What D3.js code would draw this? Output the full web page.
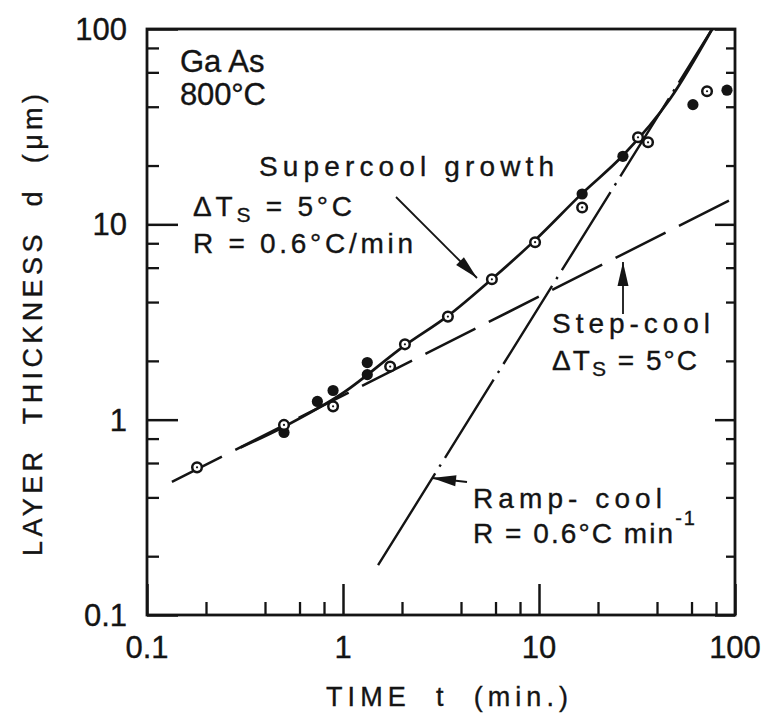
<!DOCTYPE html>
<html><head><meta charset="utf-8">
<script src="https://cdnjs.cloudflare.com/ajax/libs/d3/7.8.5/d3.min.js"></script>
<style>
body{margin:0;background:#fff}
svg{display:block}
text{font-family:"Liberation Sans",Arial,sans-serif;fill:#141414;stroke:#141414;stroke-width:0.35;white-space:pre}
</style>
</head><body>
<svg id="c" width="765" height="714"></svg>
<script>
// ---------- data ----------
const majorTicks = [0.1, 1, 10, 100];
const minorTicks = [0.2, 0.4, 0.6, 0.8, 2, 4, 6, 8, 20, 40, 60, 80];
const xTickLabels = ["0.1", "1", "10", "100"];
const yTickLabels = ["0.1", "1", "10", "100"];

// measured points (open circles)
const openTime  = [0.18, 0.50, 0.89, 1.74, 2.07, 3.43, 5.75, 9.55, 16.6, 32, 36, 72];
const openThick = [0.57, 0.94, 1.17, 1.87, 2.43, 3.37, 5.23, 8.1, 12.2, 27.9, 26.3, 48];
// measured points (filled circles)
const filledTime  = [0.50, 0.74, 0.89, 1.33, 1.33, 16.6, 26.8, 61, 91];
const filledThick = [0.86, 1.24, 1.41, 1.96, 1.70, 14.3, 22.3, 41, 48.6];

// supercool growth curve (solid)
const supercoolTime  = [0.30, 0.50, 1.0, 2.07, 3.43, 5.75, 9.55, 16.6, 26.8, 46.6, 76.5];
const supercoolThick = [0.72, 0.92, 1.37, 2.40, 3.40, 5.25, 8.3, 14.4, 22.5, 43.8, 100];
// step-cool line (dashed)
const stepTime  = [0.134, 100];
const stepThick = [0.48, 13.7];
// ramp-cool line (dash-dot)
const rampTime  = [1.51, 76.5];
const rampThick = [0.18, 100];

// ---------- layout ----------
const svg = d3.select("#c");
const L = 147, R = 735, T = 29, B = 615;
const x = d3.scaleLog().domain([0.1, 100]).range([L, R]);
const y = d3.scaleLog().domain([0.1, 100]).range([B, T]);
const ink = "#141414";

// frame
svg.append("rect").attr("x", L).attr("y", T).attr("width", R - L).attr("height", B - T)
  .attr("fill", "none").attr("stroke", ink).attr("stroke-width", 2.8);

function styleAxis(g, w) {
  g.select(".domain").remove();
  g.selectAll("line").attr("stroke", ink).attr("stroke-width", w);
  g.selectAll("text").remove();
}
// bottom
svg.append("g").attr("transform", `translate(0,${B})`)
  .call(d3.axisBottom(x).tickValues(majorTicks).tickSize(-31)).call(g => styleAxis(g, 2.5));
svg.append("g").attr("transform", `translate(0,${B})`)
  .call(d3.axisBottom(x).tickValues(minorTicks).tickSize(-13)).call(g => styleAxis(g, 2.3));
// left
svg.append("g").attr("transform", `translate(${L},0)`)
  .call(d3.axisLeft(y).tickValues(majorTicks).tickSize(-31)).call(g => styleAxis(g, 2.5));
svg.append("g").attr("transform", `translate(${L},0)`)
  .call(d3.axisLeft(y).tickValues(minorTicks).tickSize(-12)).call(g => styleAxis(g, 2.3));
// right
svg.append("g").attr("transform", `translate(${R},0)`)
  .call(d3.axisRight(y).tickValues(majorTicks).tickSize(-20)).call(g => styleAxis(g, 2.5));
svg.append("g").attr("transform", `translate(${R},0)`)
  .call(d3.axisRight(y).tickValues(minorTicks).tickSize(-9)).call(g => styleAxis(g, 2.3));

// tick labels
svg.append("g").selectAll("text").data(majorTicks).join("text")
  .attr("x", d => x(d)).attr("y", 658).attr("text-anchor", "middle")
  .attr("font-size", 31).text((d, i) => xTickLabels[i]);
svg.append("g").selectAll("text").data(majorTicks).join("text")
  .attr("x", 127).attr("y", d => y(d)).attr("dy", "0.36em").attr("text-anchor", "end")
  .attr("font-size", 31).text((d, i) => yTickLabels[i]);

function fit(sel, target) {
  const n = sel.text().length;
  const w = sel.node().getComputedTextLength();
  sel.attr("letter-spacing", (target - w) / (n - 1));
  return sel;
}

// axis titles
fit(svg.append("text").attr("x", 326).attr("y", 706).attr("font-size", 27).text("TIME  t  (min.)"), 242);
fit(svg.append("text").attr("transform", "translate(42,556) rotate(-90)").attr("font-size", 27)
  .text("LAYER  THICKNESS  d  (μm)"), 462);

// ---------- curves ----------
const line = d3.line().x(d => x(d[0])).y(d => y(d[1]));
svg.append("path").datum(stepTime.map((t, i) => [t, stepThick[i]])).attr("d", line)
  .attr("fill", "none").attr("stroke", ink).attr("stroke-width", 2.5).attr("stroke-dasharray", "56,15");
svg.append("path").datum(rampTime.map((t, i) => [t, rampThick[i]])).attr("d", line)
  .attr("fill", "none").attr("stroke", ink).attr("stroke-width", 2.4)
  .attr("stroke-dasharray", "108,8,2.5,8,92,8,2.5,8,92,8,2.5,8,92,8,2.5,8,92,8,2.5,8,300");
svg.append("path").datum(supercoolTime.map((t, i) => [t, supercoolThick[i]]))
  .attr("d", line.curve(d3.curveMonotoneX))
  .attr("fill", "none").attr("stroke", ink).attr("stroke-width", 2.7);

// ---------- points ----------
svg.append("g").selectAll("circle").data(filledTime.map((t, i) => [t, filledThick[i]])).join("circle")
  .attr("cx", d => x(d[0])).attr("cy", d => y(d[1])).attr("r", 5.6).attr("fill", ink);
const og = svg.append("g").selectAll("g").data(openTime.map((t, i) => [t, openThick[i]])).join("g");
og.append("circle").attr("cx", d => x(d[0])).attr("cy", d => y(d[1])).attr("r", 4.8)
  .attr("fill", "#fff").attr("stroke", ink).attr("stroke-width", 2.5);
og.append("circle").attr("cx", d => x(d[0])).attr("cy", d => y(d[1])).attr("r", 1.1).attr("fill", ink);

// ---------- annotations ----------
svg.append("text").attr("x", 180).attr("y", 72).attr("font-size", 31).text("Ga As");
fit(svg.append("text").attr("x", 180).attr("y", 105).attr("font-size", 31).text("800°C"), 86);

fit(svg.append("text").attr("x", 259).attr("y", 176).attr("font-size", 28).text("Supercool growth"), 295);
function dts(xp, yp, w) {
  const t = svg.append("text").attr("x", xp).attr("y", yp).attr("font-size", 28);
  t.append("tspan").text("ΔT");
  t.append("tspan").attr("font-size", 21).attr("dy", 6).text("S");
  t.append("tspan").attr("dy", -6).text(" = 5°C");
  fit(t, w);
}
dts(193, 216, 159);
fit(svg.append("text").attr("x", 193).attr("y", 253).attr("font-size", 28).text("R = 0.6°C/min"), 220);

fit(svg.append("text").attr("x", 552).attr("y", 333).attr("font-size", 28).text("Step-cool"), 158);
dts(552, 370, 145);

fit(svg.append("text").attr("x", 473).attr("y", 508).attr("font-size", 28).text("Ramp- cool"), 189);
{
  const t = svg.append("text").attr("x", 473).attr("y", 543).attr("font-size", 28);
  t.append("tspan").text("R = 0.6°C min");
  t.append("tspan").attr("font-size", 20).attr("dy", -18).text("-1");
  fit(t, 222);
}

// arrows
function arrow(x1, y1, x2, y2, hl, hw) {
  svg.append("line").attr("x1", x1).attr("y1", y1).attr("x2", x2).attr("y2", y2)
    .attr("stroke", ink).attr("stroke-width", 1.8);
  const a = Math.atan2(y2 - y1, x2 - x1);
  const bx = x2 - hl * Math.cos(a), by = y2 - hl * Math.sin(a);
  const px = -Math.sin(a) * hw / 2, py = Math.cos(a) * hw / 2;
  svg.append("path").attr("d", `M${x2},${y2}L${bx + px},${by + py}L${bx - px},${by - py}Z`).attr("fill", ink);
}
arrow(396, 197, 477, 278, 24, 11);
arrow(623, 314, 623, 262, 24, 11);
arrow(467, 482, 432, 478, 24, 11);
</script>
</body></html>
